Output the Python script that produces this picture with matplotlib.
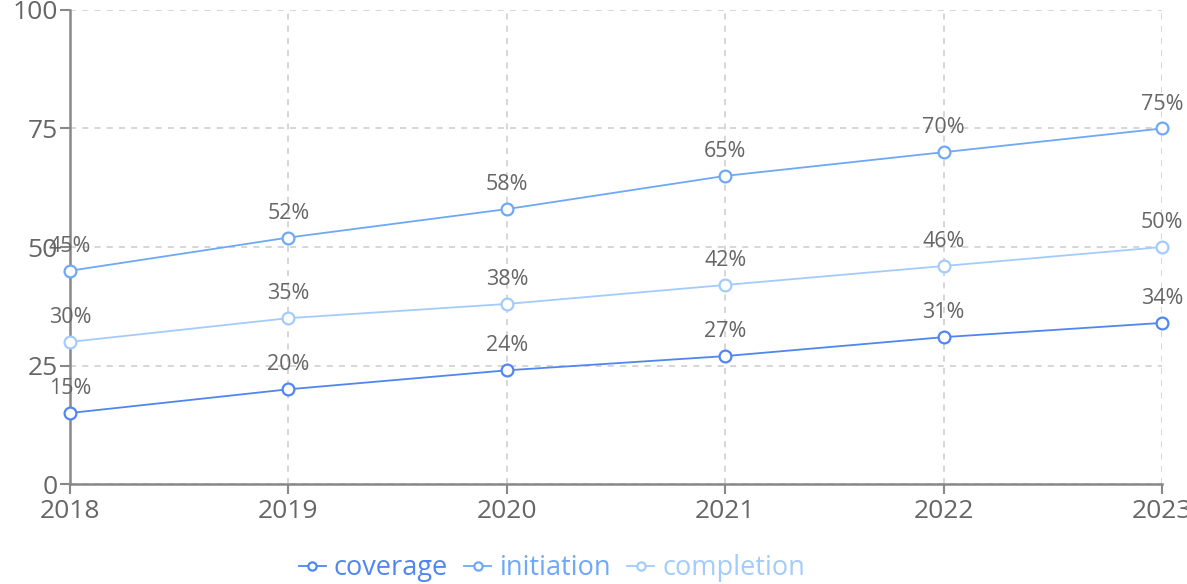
import matplotlib.pyplot as plt

plt.rcParams['font.family'] = ['Open Sans', 'DejaVu Sans']

years = [2018, 2019, 2020, 2021, 2022, 2023]
coverage = [15, 20, 24, 27, 31, 34]
initiation = [45, 52, 58, 65, 70, 75]
completion = [30, 35, 38, 42, 46, 50]

series = [
    ("coverage", coverage, "#4f86ef"),
    ("initiation", initiation, "#6ea8f7"),
    ("completion", completion, "#a3cbfb"),
]

fig = plt.figure(figsize=(11.87, 5.84), dpi=100)
ax = fig.add_axes([0.059, 0.171, 0.920, 0.812])

for name, values, color in series:
    ax.plot(years, values, color=color, linewidth=1.3, marker='o',
            markersize=8.5, markerfacecolor='white', markeredgecolor=color,
            markeredgewidth=1.6, label=name, clip_on=False, zorder=3)
    for x, y in zip(years, values):
        ax.annotate(f"{y}%", (x, y), xytext=(0, 10), textcoords='offset points',
                    ha='center', va='bottom', fontsize=15.5, color='#666666',
                    annotation_clip=False)

ax.set_xlim(2018, 2023)
ax.set_ylim(0, 100)
ax.set_xticks(years)
ax.set_yticks([0, 25, 50, 75, 100])

ax.grid(True, linestyle=(0, (4, 4)), color='#cccccc', linewidth=1.1)
ax.set_axisbelow(True)

for side in ['top', 'right']:
    ax.spines[side].set_visible(False)
for side in ['left', 'bottom']:
    ax.spines[side].set_color('#888888')
    ax.spines[side].set_linewidth(1.8)

ax.tick_params(axis='both', colors='#888888', length=7, width=1.5,
               labelsize=19, labelcolor='#666666')
ax.tick_params(axis='x', pad=4)
ax.tick_params(axis='y', pad=2)

ax.legend(loc='center', bbox_to_anchor=(0.465, 0.027),
          bbox_transform=fig.transFigure, ncol=3, frameon=False,
          fontsize=19.5, labelcolor='linecolor', handlelength=1.0,
          handletextpad=0.3, columnspacing=0.6, markerscale=0.7)

plt.savefig('out.png', dpi=100)
